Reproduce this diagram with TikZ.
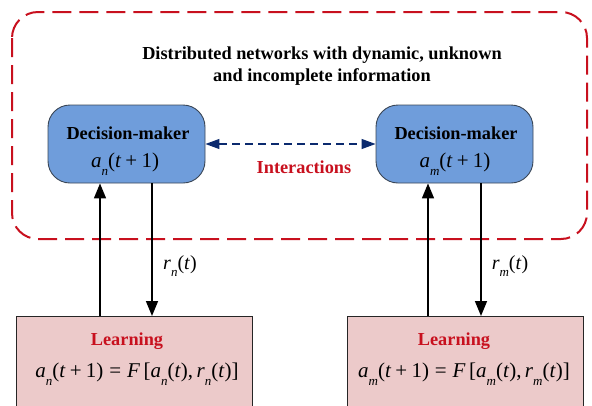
\documentclass[tikz,border=0pt]{standalone}
\usepackage{fontspec}
\setmainfont{Liberation Serif}
\usetikzlibrary{arrows.meta,calc}
\definecolor{dmblue}{HTML}{6F9DDB}
\definecolor{dmborder}{HTML}{3A4656}
\definecolor{lrnfill}{HTML}{ECCACA}
\definecolor{redd}{HTML}{C8101E}
\definecolor{navy}{HTML}{0B2A6E}
\newcommand{\mv}[1]{\textit{#1}}
\newcommand{\msb}[1]{\raisebox{-0.36em}{\fontsize{13}{13}\selectfont\itshape #1}}
\newcommand{\pl}{\hspace{0.2em}+\hspace{0.2em}}
\newcommand{\eqs}{\hspace{0.28em}=\hspace{0.28em}}
\tikzset{
  dmbox/.style={draw=dmborder, line width=0.9pt, fill=dmblue, rounded corners=22pt, minimum width=157pt, minimum height=78pt, inner sep=0pt},
  lrnbox/.style={draw=black!85, line width=0.9pt, fill=lrnfill, minimum width=236pt, minimum height=100pt, inner sep=0pt, anchor=north},
  bigtxt/.style={font=\fontsize{18.3}{22}\selectfont\bfseries, align=center, inner sep=0pt},
  mathtxt/.style={font=\fontsize{21}{24}\selectfont, inner sep=0pt},
  arr/.style={line width=1.6pt, -{Triangle[length=15pt,width=12pt]}},
}
\begin{document}
\begin{tikzpicture}[x=1pt,y=-1pt]
\useasboundingbox (0,0) rectangle (592,405);
\clip (0,0) rectangle (592,405);
% outer dashed region
\draw[redd, line width=2pt, dash pattern=on 19pt off 8pt, rounded corners=26pt] (12,12) rectangle (587,239);
\node[bigtxt] (title) at (322,66) {Distributed networks with dynamic, unknown\\and incomplete information};
% decision makers
\node[dmbox] (dn) at (126.5,144) {};
\node[dmbox] (dm) at (454.5,144) {};
\node[bigtxt] (dnt) at (128,133) {Decision-maker};
\node[mathtxt] (dnm) at (125,164) {\mv{a}\msb{n}(\mv{t}\pl1)};
\node[bigtxt] (dmt) at (456,133) {Decision-maker};
\node[mathtxt] (dmm) at (455,164) {\mv{a}\msb{m}(\mv{t}\pl1)};
% interactions
\draw[navy, line width=1.2pt, dash pattern=on 8pt off 5pt, {Triangle[length=14pt,width=10pt]}-{Triangle[length=14pt,width=10pt]}] (dn.east) -- (dm.west);
\node[bigtxt, text=redd] (inter) at (304,167) {Interactions};
% learning boxes
\node[lrnbox] (ln) at (134,316) {};
\node[lrnbox] (lm) at (465,316) {};
\node[bigtxt, text=redd] (lnt) at (127,341) {Learning};
\node[mathtxt] (lnm) at (137,374) {\mv{a}\msb{n}(\mv{t}\pl1)\eqs\mv{F}\,[\mv{a}\msb{n}(\mv{t}),\,\mv{r}\msb{n}(\mv{t})]};
\node[bigtxt, text=redd] (lmt) at (454,341) {Learning};
\node[mathtxt] (lmm) at (464,374) {\mv{a}\msb{m}(\mv{t}\pl1)\eqs\mv{F}\,[\mv{a}\msb{m}(\mv{t}),\,\mv{r}\msb{m}(\mv{t})]};
% arrows
\coordinate (xa) at (100,0);
\coordinate (xb) at (152,0);
\coordinate (xc) at (428,0);
\coordinate (xd) at (481,0);
\draw[arr] (ln.north -| xa) -- (dn.south -| xa);
\draw[arr] (dn.south -| xb) -- (ln.north -| xb);
\draw[arr] (lm.north -| xc) -- (dm.south -| xc);
\draw[arr] (dm.south -| xd) -- (lm.north -| xd);
\node[mathtxt, font=\fontsize{20}{22}\selectfont] (rn) at (180,266) {\mv{r}\msb{n}(\mv{t})};
\node[mathtxt, font=\fontsize{20}{22}\selectfont] (rm) at (510,266) {\mv{r}\msb{m}(\mv{t})};
\end{tikzpicture}
\end{document}
